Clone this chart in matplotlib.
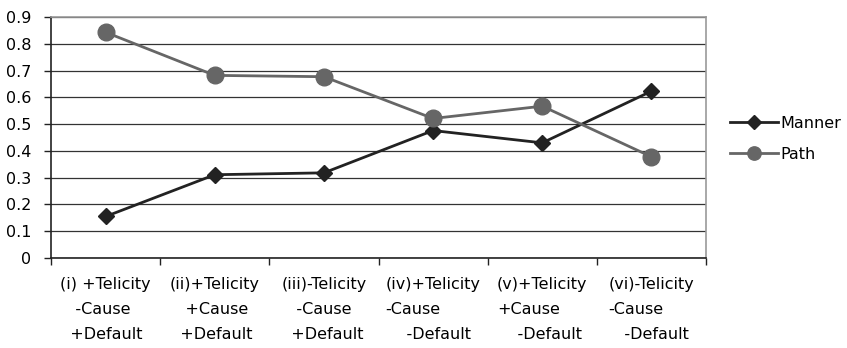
import matplotlib
matplotlib.use("Agg")
import matplotlib.pyplot as plt

plt.rcParams['font.family'] = ['DejaVu Sans']

categories = [
    "(i) +Telicity\n   -Cause\n  +Default",
    "(ii)+Telicity\n   +Cause\n  +Default",
    "(iii)-Telicity\n   -Cause\n  +Default",
    "(iv)+Telicity\n-Cause\n    -Default",
    "(v)+Telicity\n+Cause\n    -Default",
    "(vi)-Telicity\n-Cause\n   -Default",
]
manner = [0.155, 0.311, 0.318, 0.476, 0.430, 0.623]
path = [0.843, 0.682, 0.677, 0.521, 0.567, 0.378]
y_ticks = [0, 0.1, 0.2, 0.3, 0.4, 0.5, 0.6, 0.7, 0.8, 0.9]
y_labels = ["0", "0.1", "0.2", "0.3", "0.4", "0.5", "0.6", "0.7", "0.8", "0.9"]

FS = 11.5

fig = plt.figure(figsize=(8.47, 3.48), dpi=100)
ax = fig.add_axes([51 / 847, 1 - 258 / 348, (706 - 51) / 847, (258 - 17) / 348])

x = list(range(len(categories)))
ax.plot(x, manner, color='#222222', lw=2.0, marker='D', ms=8.5,
        markeredgecolor='#222222', label='Manner', zorder=3)
ax.plot(x, path, color='#666666', lw=2.0, marker='o', ms=12,
        markeredgecolor='#666666', label='Path', zorder=3)

ax.set_xlim(-0.5, len(categories) - 0.5)
ax.set_ylim(0, 0.9)
ax.set_yticks(y_ticks)
ax.set_yticklabels(y_labels, fontsize=FS)
ax.yaxis.grid(True, color='#333333', lw=0.9)
ax.set_axisbelow(True)

# category labels sit between the boundary tick marks
ax.set_xticks([i - 0.5 for i in range(len(categories) + 1)])
ax.set_xticklabels([])
ax.set_xticks(x, minor=True)
ax.set_xticklabels(categories, minor=True, fontsize=FS, linespacing=1.82,
                   multialignment='left')
ax.tick_params(axis='x', which='minor', length=0, pad=14)
ax.tick_params(axis='x', which='major', length=5, width=1, color='#222222', direction='out')
ax.tick_params(axis='y', length=5, width=1, color='#222222', direction='out', pad=9)

for s in ['left', 'bottom']:
    ax.spines[s].set_color('#222222')
    ax.spines[s].set_linewidth(1.2)
for s in ['top', 'right']:
    ax.spines[s].set_color('#999999')
    ax.spines[s].set_linewidth(1.2)

ax.legend(loc='center left', bbox_to_anchor=(724 / 847, 1 - 139 / 348),
          bbox_transform=fig.transFigure, frameon=False, fontsize=FS,
          handlelength=3.0, handletextpad=0.15, labelspacing=1.0,
          markerscale=0.8, borderaxespad=0)

fig.savefig("out.png", dpi=100)
